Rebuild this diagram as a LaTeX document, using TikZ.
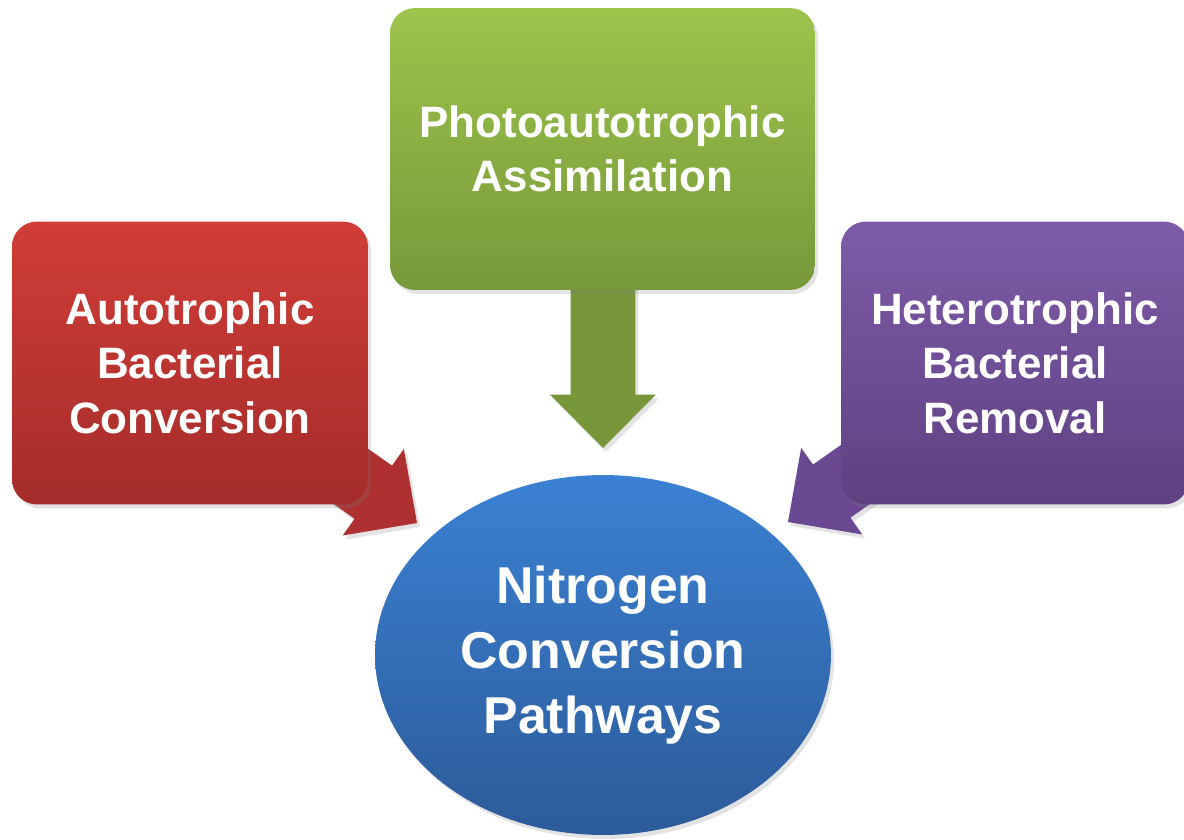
\documentclass[tikz,border=0pt]{standalone}
\usepackage{fontspec}
\setmainfont{Liberation Sans}
\usetikzlibrary{shadows,shapes.geometric}
\definecolor{greenTop}{HTML}{9DC44B}
\definecolor{greenBottom}{HTML}{77983A}
\definecolor{greenArrow}{HTML}{77973A}
\definecolor{redTop}{HTML}{D13D37}
\definecolor{redBottom}{HTML}{A42C2A}
\definecolor{redArrow}{HTML}{AE3030}
\definecolor{purpleTop}{HTML}{7E5BA8}
\definecolor{purpleBottom}{HTML}{5E4181}
\definecolor{purpleArrow}{HTML}{6A4992}
\definecolor{blueTop}{HTML}{3B81D3}
\definecolor{blueBottom}{HTML}{2C5B99}
\tikzstyle{softShadow}=[drop shadow={opacity=.22,shadow xshift=.06cm,shadow yshift=-.08cm}]
\tikzstyle{pathBox}=[rectangle,rounded corners=.5cm,softShadow,text=white,align=center,
  font=\fontsize{25}{31}\selectfont\bfseries,minimum height=5.66cm]
\tikzstyle{hubEllipse}=[ellipse,softShadow,text=white,align=center,
  font=\fontsize{29.5}{37}\selectfont\bfseries,minimum width=9.12cm,minimum height=7.2cm,
  top color=blueTop,bottom color=blueBottom]
\newcommand{\flowArrow}[3]{%
  \begin{scope}[shift={(#1)},rotate=#2]
    \fill[#3,softShadow] (0,0) -- (-1.07cm,1.06cm) -- (-1.07cm,.65cm) -- (-4cm,.65cm)
      -- (-4cm,-.65cm) -- (-1.07cm,-.65cm) -- (-1.07cm,-1.06cm) -- cycle;
  \end{scope}}

\begin{document}
\begin{tikzpicture}[x=.02cm,y=-.02cm]
\useasboundingbox (0,0) rectangle (1184,839);
\coordinate (redTip) at (417,523);
\coordinate (greenTip) at (603,448);
\coordinate (purpleTip) at (788,522);
% block arrows sit under the boxes
\flowArrow{redTip}{-35.2}{redArrow}
\flowArrow{greenTip}{-90}{greenArrow}
\flowArrow{purpleTip}{215.2}{purpleArrow}
% the three pathways
\node[pathBox,minimum width=7.12cm,top color=redTop,bottom color=redBottom]
  (autoBox) at (190,363) {Autotrophic\\Bacterial\\Conversion};
\node[pathBox,minimum width=8.5cm,minimum height=5.64cm,top color=greenTop,bottom color=greenBottom]
  (photoBox) at (602.5,149) {Photoautotrophic\\Assimilation};
\node[pathBox,minimum width=6.96cm,top color=purpleTop,bottom color=purpleBottom]
  (heteroBox) at (1015,363) {Heterotrophic\\Bacterial\\Removal};
% centre
\node[hubEllipse] (nitrogen) at (603,655) {Nitrogen\\Conversion\\Pathways};
\end{tikzpicture}
\end{document}
